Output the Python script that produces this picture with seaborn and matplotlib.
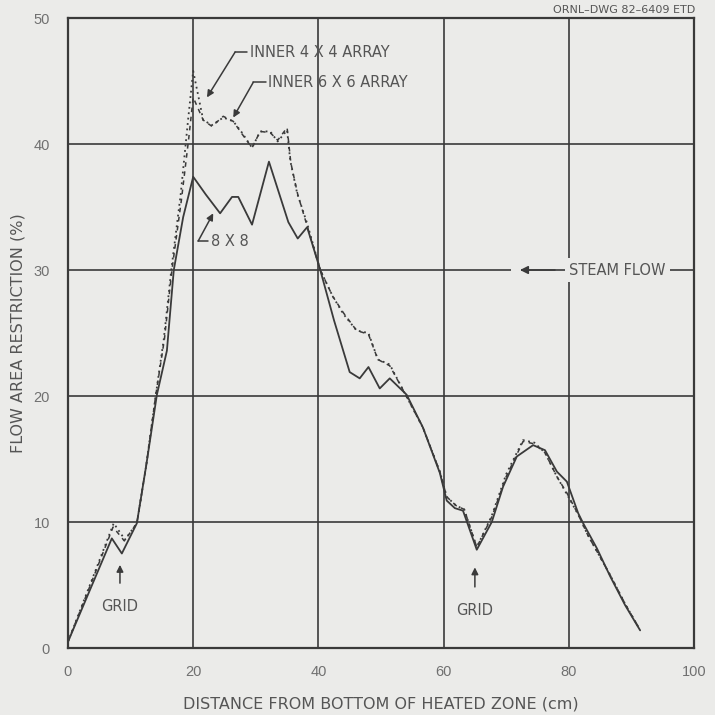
import numpy as np
import pandas as pd
import seaborn as sns
import matplotlib.pyplot as plt

# solid curve, 8 x 8 array
x_8x8 = [0, 3.5, 7.0, 8.6, 11.0, 12.5, 14.2, 15.8, 16.9, 18.4, 20.0, 22.0, 24.3, 26.2, 27.2,
         29.4, 32.1, 35.2, 36.7, 38.2, 40.3, 42.5, 45.0, 46.6, 48.0, 49.8, 51.4, 54.1, 56.7,
         59.4, 60.5, 61.8, 63.1, 65.3, 67.7, 69.5, 71.7, 74.3, 76.2, 78.1, 79.7, 81.5, 82.3,
         84.5, 86.6, 89.0, 91.4]
y_8x8 = [0.5, 4.6, 8.7, 7.5, 9.9, 14.5, 20.1, 23.6, 30.0, 34.2, 37.4, 36.0, 34.5, 35.8, 35.8,
         33.6, 38.6, 33.8, 32.5, 33.4, 30.0, 26.0, 21.9, 21.4, 22.3, 20.6, 21.4, 20.1, 17.5,
         13.9, 11.7, 11.1, 10.9, 7.8, 10.0, 12.8, 15.2, 16.1, 15.7, 14.0, 13.2, 10.7, 9.9,
         7.9, 5.7, 3.4, 1.4]

# dotted curve, inner 4 x 4 array
x_4x4 = [0, 3.5, 7.3, 9.1, 11.0, 12.5, 14.0, 15.3, 16.5, 18.0, 19.2, 20.0, 21.6, 23.0, 24.8,
         26.4, 27.8, 29.4, 30.7, 32.3, 33.5, 35.0, 35.5, 36.6, 38.2, 40.3, 42.3, 44.0, 46.1,
         48.0, 49.5, 51.4, 53.5, 56.7, 59.4, 60.5, 62.0, 63.3, 65.3, 67.7, 70.0, 72.7, 74.5,
         76.2, 78.1, 79.7, 81.5, 83.0, 86.6, 89.0, 91.2]
y_4x4 = [0.5, 5.0, 9.9, 8.6, 9.9, 14.5, 20.0, 24.5, 30.0, 36.0, 42.0, 45.8, 41.9, 41.5, 42.1,
         41.8, 40.9, 39.7, 41.0, 41.0, 40.2, 41.1, 38.7, 36.1, 33.7, 30.0, 27.9, 26.5, 25.2,
         25.0, 22.9, 22.5, 20.5, 17.5, 14.0, 12.0, 11.3, 11.0, 8.0, 10.5, 13.8, 16.5, 16.3,
         15.5, 13.6, 12.2, 10.6, 9.0, 5.8, 3.5, 1.6]

# dashed curve, inner 6 x 6 array
x_6x6 = [0, 3.5, 7.2, 9.0, 11.0, 12.5, 14.0, 15.4, 16.6, 18.1, 19.3, 20.0, 21.6, 23.0, 24.8,
         26.4, 27.8, 29.4, 30.7, 32.3, 33.5, 35.0, 35.6, 36.7, 38.2, 40.3, 42.3, 44.0, 46.1,
         48.0, 49.5, 51.4, 53.5, 56.7, 59.4, 60.5, 62.0, 63.3, 65.3, 67.7, 70.0, 72.7, 74.5,
         76.2, 78.1, 79.7, 81.5, 83.0, 86.6, 89.0, 91.2]
y_6x6 = [0.5, 4.9, 9.6, 8.5, 9.9, 14.5, 20.0, 24.5, 30.0, 35.5, 40.5, 43.7, 41.9, 41.4, 42.2,
         41.8, 40.8, 39.7, 41.0, 40.9, 40.3, 41.3, 38.5, 36.0, 33.5, 30.0, 27.9, 26.6, 25.2,
         24.9, 22.9, 22.4, 20.5, 17.5, 14.0, 12.0, 11.3, 11.0, 8.0, 10.4, 13.6, 16.4, 16.2,
         15.5, 13.6, 12.3, 10.6, 9.0, 5.8, 3.5, 1.6]

x_ticks = [0, 20, 40, 60, 80, 100]
y_ticks = [0, 10, 20, 30, 40, 50]

bg = "#ebebe9"
ink = "#3a3a3a"
txt = "#555555"
tick_txt = "#707070"

sns.set_theme(style="white")
plt.rcParams["font.family"] = ["DejaVu Sans"]

fig = plt.figure(figsize=(7.15, 7.15), dpi=100, facecolor=bg)
ax = fig.add_axes([0.0951, 0.0937, 0.8755, 0.8811])
ax.set_facecolor(bg)

sns.lineplot(x=x_8x8, y=y_8x8, ax=ax, color=ink, lw=1.3, sort=False)
sns.lineplot(x=x_4x4, y=y_4x4, ax=ax, color=ink, lw=1.3, sort=False, linestyle=(0, (1, 2)))
sns.lineplot(x=x_6x6, y=y_6x6, ax=ax, color=ink, lw=1.1, sort=False, linestyle=(0, (3, 3)))

ax.set_xlim(0, 100)
ax.set_ylim(0, 50)
ax.set_xticks(x_ticks)
ax.set_yticks(y_ticks)
ax.grid(True, color=ink, lw=1.2)
ax.tick_params(axis="both", length=0, labelsize=10.5, labelcolor=tick_txt)
ax.tick_params(axis="x", pad=12)
ax.tick_params(axis="y", pad=13)
for lbl in ax.get_xticklabels() + ax.get_yticklabels():
    lbl.set_family("Liberation Sans")
for s in ax.spines.values():
    s.set_color(ink)
    s.set_linewidth(1.6)

ax.set_xlabel("DISTANCE FROM BOTTOM OF HEATED ZONE (cm)", fontsize=11.5, color=txt, labelpad=13)
ax.set_ylabel("FLOW AREA RESTRICTION (%)", fontsize=11.5, color=txt, labelpad=6)

ap = dict(arrowstyle="-|>", color=ink, lw=1.1, mutation_scale=10, shrinkA=0, shrinkB=0)
fs = 10.5


def leader(label, tip, corner, hx, tx):
    # short horizontal stub, diagonal leader with arrowhead, then the text
    ax.plot([corner[0], hx], [corner[1], corner[1]], color=ink, lw=1.1)
    ax.annotate("", xy=tip, xytext=corner, arrowprops=ap)
    ax.text(tx, corner[1], label, fontsize=fs, color=txt, va="center", ha="left")


leader("INNER 4 X 4 ARRAY", (22.2, 43.7), (26.7, 47.3), 28.6, 29.0)
leader("INNER 6 X 6 ARRAY", (26.4, 42.1), (29.6, 44.9), 31.6, 32.0)
leader("8 X 8", (23.2, 34.5), (20.8, 32.3), 22.4, 22.8)

ax.annotate("GRID", xy=(8.3, 6.6), xytext=(8.3, 3.3), fontsize=fs, color=txt,
            ha="center", va="center", arrowprops=dict(ap, shrinkA=9))
ax.annotate("GRID", xy=(65.0, 6.4), xytext=(65.0, 3.0), fontsize=fs, color=txt,
            ha="center", va="center", arrowprops=dict(ap, shrinkA=9))
ax.text(87.8, 30, "STEAM FLOW", fontsize=fs, color=txt, ha="center", va="center",
        bbox=dict(boxstyle="square,pad=0.3", fc=bg, ec="none"))
ax.annotate("", xy=(72.2, 30), xytext=(77.8, 30),
            arrowprops=dict(ap, mutation_scale=12))
ax.plot([70.8, 72.4], [30, 30], color=bg, lw=3, solid_capstyle="butt")

fig.text(0.972, 0.993, "ORNL\u2013DWG 82\u20136409 ETD", fontsize=8, color=txt,
         ha="right", va="top")

fig.savefig("out.png", dpi=100, facecolor=bg)
